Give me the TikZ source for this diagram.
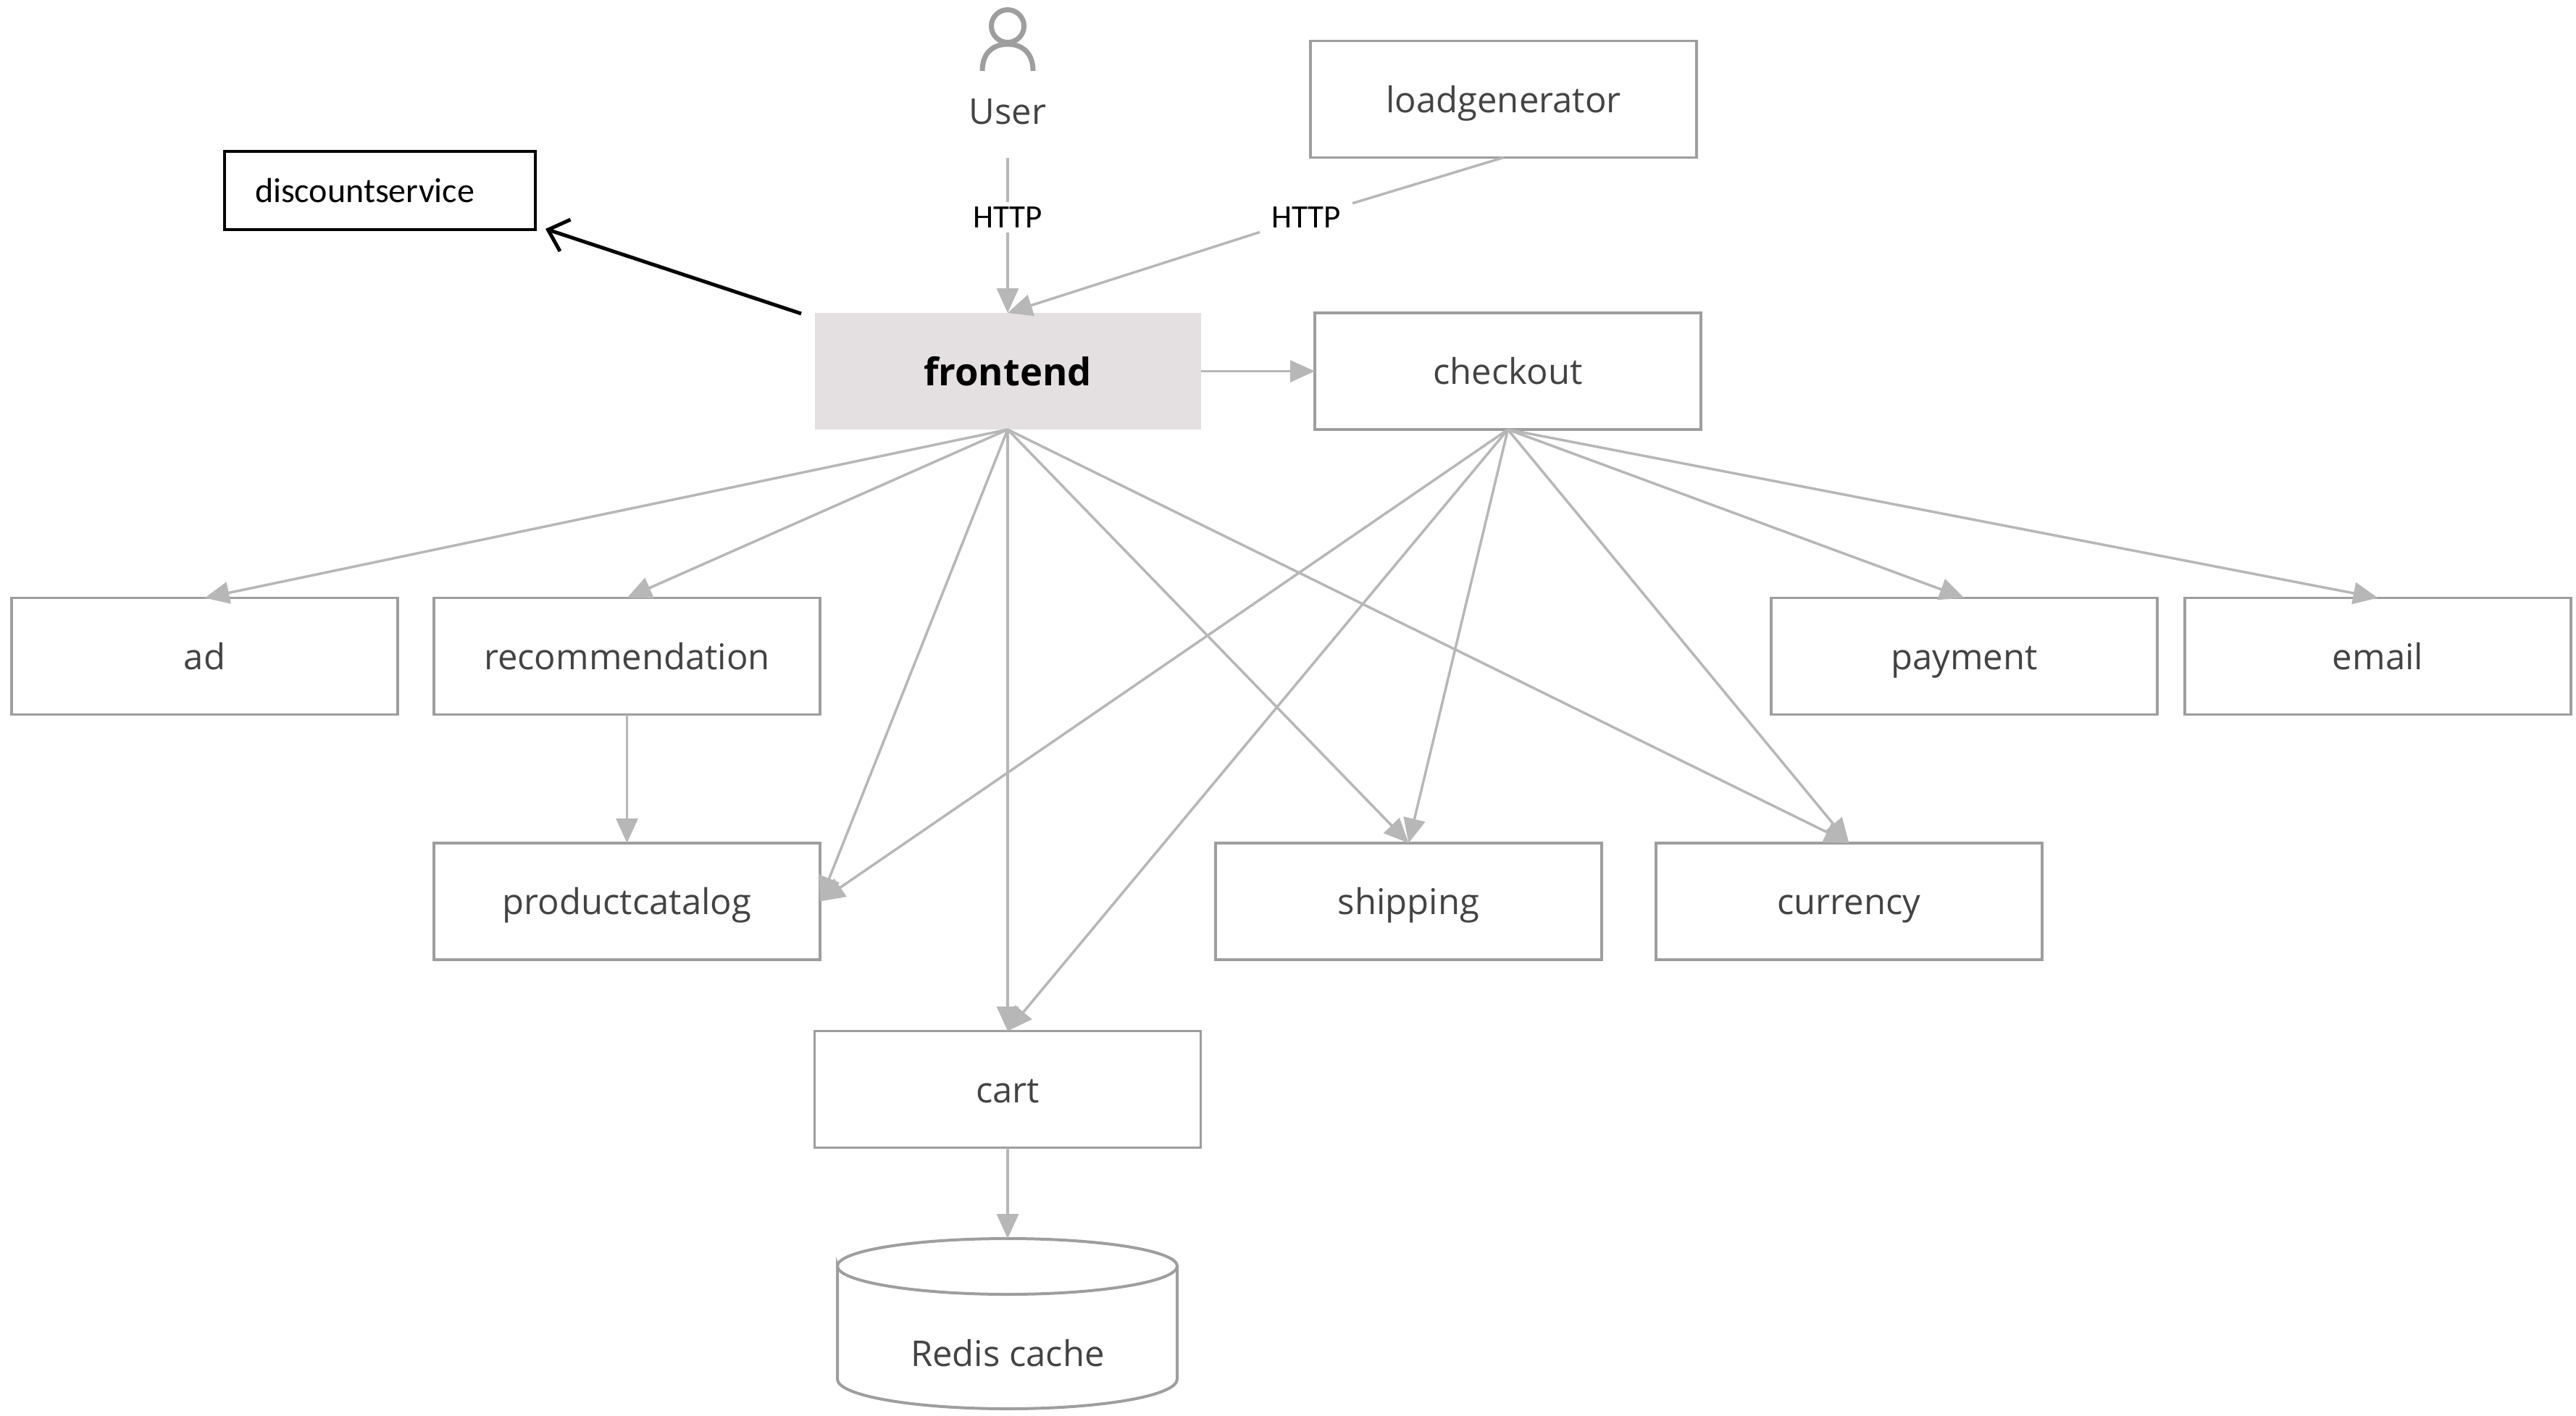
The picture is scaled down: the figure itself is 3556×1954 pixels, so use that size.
\documentclass[tikz,border=0pt]{standalone}
\usepackage{fontspec}
\setmainfont{Open Sans}
\newfontfamily\calfont{Carlito}
\usetikzlibrary{arrows.meta}
\definecolor{boxgray}{HTML}{9E9E9E}
\definecolor{edgegray}{HTML}{B7B7B7}
\definecolor{labelgray}{HTML}{434343}
\definecolor{frontfill}{HTML}{E4DFE1}
\tikzset{
  x=1pt,y=-1pt,
  svc/.style={draw=boxgray,line width=3.5pt,fill=white,minimum width=533pt,minimum height=161pt,inner sep=0pt,outer sep=0pt,text=labelgray,font=\fontsize{49}{58}\selectfont,text height=46pt,text depth=10pt},
  front/.style={svc,draw=none,fill=frontfill,text=black,font=\fontsize{52.5}{60}\selectfont\bfseries,text height=50pt},
  plain/.style={inner sep=0pt,outer sep=0pt,text=labelgray,font=\fontsize{49}{58}\selectfont,text height=46pt,text depth=10pt},
  httplabel/.style={inner sep=0pt,outer sep=0pt,minimum width=128pt,minimum height=42pt,text=black,font=\calfont\fontsize{45}{54}\selectfont},
  edge/.style={draw=edgegray,line width=3.5pt,-{Triangle[length=34pt,width=30pt]}},
  edgeplain/.style={draw=edgegray,line width=3.5pt},
  outline/.style={draw=boxgray,line width=4pt},
  usericon/.style={draw=boxgray,line width=7pt},
  blackbox/.style={draw=black,line width=4.5pt,minimum width=429pt,minimum height=108pt,inner sep=0pt,outer sep=0pt,text=black,font=\calfont\fontsize{48}{54}\selectfont},
  blackarrow/.style={draw=black,line width=5pt,-{Straight Barb[length=25pt,width=46pt,line width=5pt]}}
}
\begin{document}
\begin{tikzpicture}
\useasboundingbox (0,0) rectangle (3556,1954);
% nodes
\node[svc] (load) at (2075.5,137) {loadgenerator};
\node[front] (fe) at (1391,512.5) {frontend};
\node[svc] (co) at (2081.5,512.5) {checkout};
\node[svc] (ad) at (282.5,906) {ad};
\node[svc] (rec) at (865.5,906) {recommendation};
\node[svc] (pay) at (2711.5,906) {payment};
\node[svc] (email) at (3282.5,906) {email};
\node[svc] (pc) at (865.5,1244.5) {productcatalog};
\node[svc] (ship) at (1944.5,1244.5) {shipping};
\node[svc] (cur) at (2552.5,1244.5) {currency};
\node[svc] (cart) at (1391,1504) {cart};
\node[plain] (user) at (1391,153) {User};
\node[httplabel] (httpa) at (1391,300) {HTTP};
\node[httplabel] (httpb) at (1803,300) {HTTP};
\node[blackbox,text width=345pt,align=left] (disc) at (524.5,263) {discountservice};
% user icon
\draw[usericon] (1391,36) circle[radius=22.5];
\draw[usericon] (1356,98) .. controls (1356,72) and (1372,61) .. (1391,61) .. controls (1410,61) and (1426,72) .. (1426,98);
% redis cylinder
\coordinate (redistop) at (1391,1710);
\draw[outline] (1156,1748) .. controls (1156,1727) and (1261,1710) .. (1391,1710) .. controls (1521,1710) and (1625,1727) .. (1625,1748)
  .. controls (1625,1769) and (1521,1787) .. (1391,1787) .. controls (1261,1787) and (1156,1769) .. (1156,1748) -- (1156,1904)
  .. controls (1156,1927) and (1261,1945) .. (1391,1945) .. controls (1521,1945) and (1625,1927) .. (1625,1904) -- (1625,1748);
\node[plain] (redis) at (1391,1868) {Redis cache};
% connectors
\coordinate (userout) at (1391,218);
\draw[edgeplain] (userout) -- (httpa);
\draw[edge] (httpa) -- (fe.north);
\draw[edgeplain] (load.south) -- (httpb);
\draw[edge] (httpb) -- (fe.north);
\draw[edge] (fe.east) -- (co.west);
\foreach \t/\a in {ad/north,rec/north,pc/east,cart/north,ship/north,cur/north}
  \draw[edge] (fe.south) -- (\t.\a);
\foreach \t/\a in {pc/east,cart/north,ship/north,cur/north,pay/north,email/north}
  \draw[edge] (co.south) -- (\t.\a);
\draw[edge] (rec.south) -- (pc.north);
\draw[edge] (cart.south) -- (redistop);
\coordinate (arrowtail) at (1106,433);
\coordinate (arrowhead) at (753,316);
\draw[blackarrow] (arrowtail) -- (arrowhead);
\end{tikzpicture}
\end{document}
